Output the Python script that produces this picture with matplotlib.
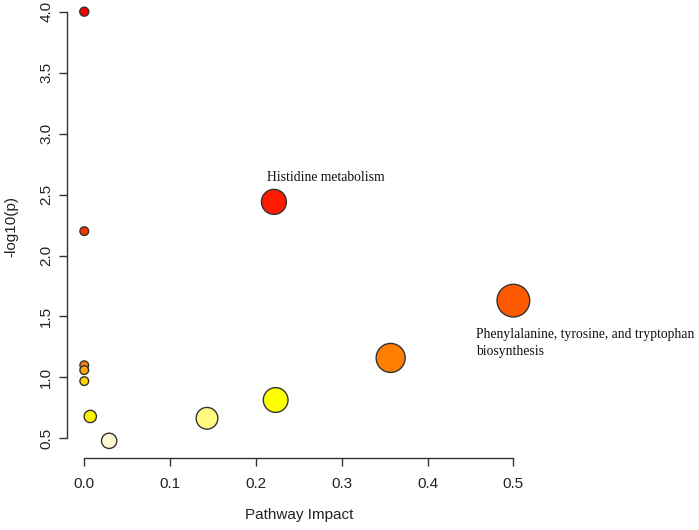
import matplotlib
matplotlib.use("Agg")
import matplotlib.pyplot as plt

# ========== DATA ==========
impact = [0.0, 0.0, 0.0, 0.0, 0.0, 0.007, 0.029, 0.143, 0.223, 0.221, 0.357, 0.5]
neglogp = [4.0, 2.20, 1.10, 1.06, 0.97, 0.68, 0.48, 0.665, 0.815, 2.44, 1.16, 1.63]
diam_px = [9, 8.7, 8.7, 8.7, 8.7, 12.3, 15.3, 21.7, 24.7, 25, 29, 32.7]
colors = ["#FF0000", "#FF3300", "#FF8000", "#FFA500", "#FFD200", "#FFF200",
          "#FFF8D2", "#FFFA80", "#FFFF00", "#FF1A00", "#FF8000", "#FF5A00"]

label_text = ["Histidine metabolism",
              "Phenylalanine, tyrosine, and tryptophan",
              "biosynthesis"]
label_x = [0.2126, 0.4565, 0.4565]
label_y = [2.614, 1.32, 1.184]

x_ticks = [0.0, 0.1, 0.2, 0.3, 0.4, 0.5]
y_ticks = [0.5, 1.0, 1.5, 2.0, 2.5, 3.0, 3.5, 4.0]

# ========== PLOT ==========
plt.rcParams["font.family"] = ["Liberation Sans", "DejaVu Sans"]

fig = plt.figure(figsize=(6.99, 5.30), dpi=100)
ax = fig.add_axes([0.096, 0.1358, 0.663, 0.8746])

sizes = [(d * 0.72) ** 2 for d in diam_px]
ax.scatter(impact, neglogp, s=sizes, c=colors, edgecolors="#333333",
           linewidths=1.0, zorder=3, clip_on=False)

for t, x, y in zip(label_text, label_x, label_y):
    ax.text(x, y, t, family=["Liberation Serif", "DejaVu Serif"], fontsize=9.8,
            ha="left", va="baseline", color="#111111")

ax.set_xlim(-0.02, 0.52)
ax.set_ylim(0.339, 4.141)

# R-style axes: only left and bottom, spanning tick range
for side in ["top", "right"]:
    ax.spines[side].set_visible(False)
ax.spines["left"].set_bounds(0.5, 4.0)
ax.spines["bottom"].set_bounds(0.0, 0.5)
for side in ["left", "bottom"]:
    ax.spines[side].set_color("#333333")
    ax.spines[side].set_linewidth(1.0)

ax.set_xticks(x_ticks)
ax.set_xticklabels([f"{v:.1f}" for v in x_ticks])
ax.set_yticks(y_ticks)
ax.set_yticklabels([f"{v:.1f}" for v in y_ticks], rotation=90, va="center")
ax.tick_params(axis="both", length=6, width=1.0, color="#333333",
               labelsize=11, labelcolor="#222222")
ax.tick_params(axis="x", pad=8)
ax.tick_params(axis="y", pad=4)

ax.set_xlabel("Pathway Impact", fontsize=11, color="#222222", labelpad=12)
ax.set_ylabel("-log10(p)", fontsize=11, color="#222222", labelpad=15)

fig.savefig("out.png", dpi=100)
